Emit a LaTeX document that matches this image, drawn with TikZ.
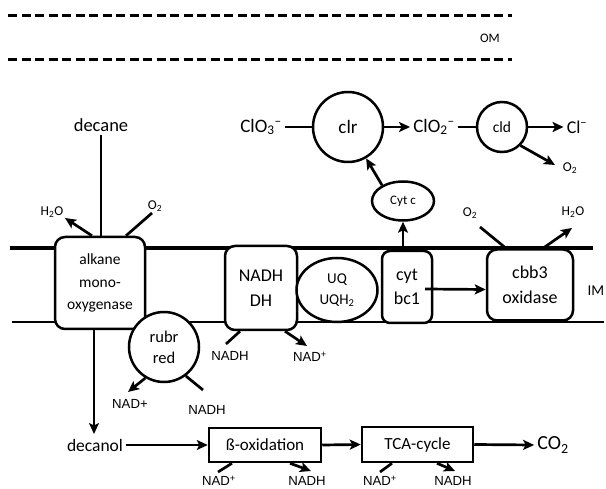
\documentclass[tikz,border=0pt]{standalone}
\usepackage{fontspec}
\setmainfont{Carlito}
\newfontfamily\arialfont{Liberation Sans}
\usetikzlibrary{arrows.meta,shapes.geometric}
\begin{document}
\begin{tikzpicture}[x=1pt,y=-1pt,
  every node/.style={inner sep=3pt},
  arr/.style={-{Stealth[length=11pt,width=10pt,inset=2.5pt]},line width=2.7pt},
  ln/.style={line width=2.7pt},
  rbox/.style={draw,line width=2.5pt,rounded corners=10pt,fill=white,align=center,inner sep=0pt},
  sbox/.style={draw,line width=2.5pt,fill=white,align=center,inner sep=0pt},
  circ/.style={draw,circle,line width=2.5pt,fill=white,align=center,inner sep=0pt},
  ell/.style={draw,ellipse,line width=2.5pt,fill=white,align=center,inner sep=0pt},
  sm/.style={font=\fontsize{13.5}{15}\selectfont},
  nad/.style={font=\arialfont\fontsize{13.2}{15}\selectfont},
  nadb/.style={font=\arialfont\fontsize{13.2}{15}\selectfont,inner sep=0.5pt},
  memb/.style={line width=3pt,dash pattern=on 9pt off 4.5pt}
]
\useasboundingbox (0,0) rectangle (606,489);

% outer membrane
\draw[memb] (8,16) -- (512,16);
\draw[memb] (8,60) -- (512,60);
\node[font=\fontsize{13}{15}\selectfont] (om) at (490,38) {OM};

% inner membrane
\draw[line width=3.2pt] (10,248) -- (593,248);
\draw[line width=1.8pt] (12,322) -- (604,322);
\node[font=\fontsize{15}{17}\selectfont,inner sep=0pt] (im) at (596,291) {IM};

% membrane complexes
\node[rbox,minimum width=90pt,minimum height=92pt,font=\fontsize{15.5}{22.5}\selectfont] (amo) at (100,283) {alkane\\mono-\\oxygenase};
\node[circ,minimum size=70pt,font=\fontsize{16.5}{21}\selectfont] (rubr) at (164,347) {rubr\\red};
\node[rbox,minimum width=72pt,minimum height=84pt,font=\fontsize{18}{25}\selectfont] (ndh) at (261,288) {NADH\\DH};
\node[ell,minimum width=81pt,minimum height=64pt,font=\fontsize{15}{21}\selectfont] (uq) at (337,290) {UQ\\UQH\textsubscript{2}};
\node[rbox,rounded corners=8pt,minimum width=50pt,minimum height=72pt,font=\fontsize{18}{24}\selectfont] (bc1) at (407,287) {cyt\\bc1};
\node[rbox,minimum width=86pt,minimum height=71pt,font=\fontsize{18}{25}\selectfont] (cbb) at (530,285) {cbb3\\oxidase};
\node[ell,minimum width=62pt,minimum height=39pt,font=\fontsize{13}{15}\selectfont] (cytc) at (403,201) {Cyt c};
\node[circ,minimum size=70pt,font=\fontsize{19}{22}\selectfont] (clr) at (348,127) {clr};
\node[circ,minimum size=50pt,font=\fontsize{15.5}{18}\selectfont] (cld) at (502,127) {cld};
\node[sbox,minimum width=112pt,minimum height=34pt,font=\fontsize{17}{20}\selectfont] (beta) at (265,445) {ß-oxidation};
\node[sbox,minimum width=111pt,minimum height=35pt,font=\fontsize{17}{20}\selectfont] (tca) at (417.5,444.5) {TCA-cycle};

% text labels
\node[font=\fontsize{18.5}{21}\selectfont] (decane) at (101,125) {decane};
\node[sm] (h2oL) at (52,212) {H\textsubscript{2}O};
\node[sm] (o2L) at (155,206) {O\textsubscript{2}};
\node[nad] (nadR) at (130,404) {NAD+};
\node[nad] (nadhR) at (207,410) {NADH};
\node[font=\fontsize{17.5}{20}\selectfont] (decanol) at (95,445) {decanol};
\node[nadb] (nadB1) at (219,481) {NAD\textsuperscript{+}};
\node[nadb] (nadhB1) at (307,481) {NADH};
\node[nadb] (nadB2) at (380,481) {NAD\textsuperscript{+}};
\node[nadb] (nadhB2) at (453,481) {NADH};
\node[font=\fontsize{20}{22}\selectfont] (co2) at (553,445) {CO\textsubscript{2}};
\node[nad] (nadhD) at (230,356) {NADH};
\node[nad] (nadD) at (310,357) {NAD\textsuperscript{+}};
\node[font=\fontsize{19}{22}\selectfont] (clo3) at (261,127) {ClO\textsubscript{3}\textsuperscript{–}};
\node[font=\fontsize{19}{22}\selectfont] (clo2) at (434,127) {ClO\textsubscript{2}\textsuperscript{–}};
\node[font=\fontsize{18}{21}\selectfont] (cl) at (577,127) {Cl\textsuperscript{–}};
\node[sm] (o2c) at (570,168) {O\textsubscript{2}};
\node[sm] (o2o) at (470,213) {O\textsubscript{2}};
\node[sm] (h2oo) at (573,212) {H\textsubscript{2}O};

% free ends
\coordinate (h2oA) at (65,218);
\coordinate (o2A) at (152,213);
\coordinate (nadA) at (128,392);
\coordinate (nadhA) at (203,390);
\coordinate (decT) at (94,434);
\coordinate (b1In) at (218,472);
\coordinate (b1Out) at (311,471);
\coordinate (t1In) at (380,472);
\coordinate (t1Out) at (455,471);
\coordinate (dIn) at (226,344);
\coordinate (dOut) at (307,346);
\coordinate (cldO) at (555,165);
\coordinate (oIn) at (480,227);
\coordinate (oOut) at (572,228);

% connectors: alkane monooxygenase
\draw[ln] (decane.south) -- (decane.south |- amo.north);
\draw[arr] ([xshift=-8pt]amo.north) -- (h2oA);
\draw[ln] ([xshift=26pt]amo.north) -- (o2A);
\draw[arr] (rubr.239) -- (nadA);
\draw[ln] (rubr.307) -- (nadhA);
\draw[arr] ([xshift=-6pt]amo.south) -- (decT);

% degradation chain
\draw[arr] (decanol.east) -- (beta.west);
\draw[ln] (b1In) -- ([xshift=-33pt]beta.south);
\draw[arr] ([xshift=25pt]beta.south) -- (b1Out);
\draw[arr] (beta.east) -- (tca.west);
\draw[ln] (t1In) -- ([xshift=-25.5pt]tca.south);
\draw[arr] ([xshift=19.5pt]tca.south) -- (t1Out);
\draw[arr] (tca.east) -- (co2.west);

% NADH DH
\draw[ln] ([xshift=-21pt]ndh.south) -- (dIn);
\draw[arr] ([xshift=24pt]ndh.south) -- (dOut);

% electron transport
\draw[arr] (cytc.south |- bc1.north) -- (cytc.south);
\draw[arr] (cytc.143) -- (clr.-60);
\draw[arr] ([xshift=18pt,yshift=-2pt]bc1.center) -- ([yshift=-4.5pt]cbb.west);
\draw[ln] (oIn) -- ([xshift=-24pt]cbb.north);
\draw[arr] ([xshift=13pt]cbb.north) -- (oOut);

% chlorate reduction
\draw[ln] (clo3.east) -- (clr.west);
\draw[arr] (clr.east) -- (clo2.west);
\draw[ln] (clo2.east) -- (cld.west);
\draw[arr] (cld.east) -- (cl.west);
\draw[arr] (cld.-45) -- (cldO);
\end{tikzpicture}
\end{document}
